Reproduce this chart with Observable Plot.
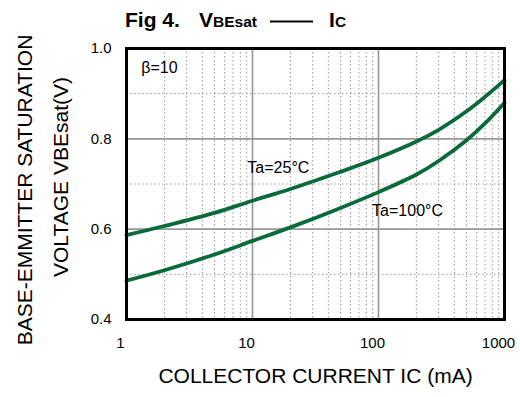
<!DOCTYPE html>
<html>
<head>
<meta charset="utf-8">
<script src="https://cdn.jsdelivr.net/npm/d3@7"></script>
<script src="https://cdn.jsdelivr.net/npm/@observablehq/plot@0.6"></script>
<style>
  html, body { margin: 0; padding: 0; background: white; }
  #wrap { position: relative; width: 520px; height: 397px; overflow: hidden; }
  #title { position: absolute; left: 0; top: 0; }
  #chart { position: absolute; left: 0; top: 0; }
  text { font-family: "Liberation Sans", Arial, sans-serif; }
</style>
</head>
<body>
<div id="wrap">
  <div id="chart"></div>
  <svg id="title" width="520" height="40" xmlns="http://www.w3.org/2000/svg">
    <text x="125" y="27" font-size="21" font-weight="bold">Fig 4.</text>
    <text x="199" y="27" font-size="21" font-weight="bold">V</text>
    <text x="213" y="27" font-size="15.5" font-weight="bold">BEsat</text>
    <line x1="270" x2="313" y1="21.5" y2="21.5" stroke="black" stroke-width="2"></line>
    <text x="329" y="27" font-size="21" font-weight="bold">I</text>
    <text x="335" y="27" font-size="15.5" font-weight="bold">C</text>
  </svg>
</div>
<script>
// Collector current (mA)
const currents = [1, 2, 5, 10, 20, 50, 100, 200, 300, 500, 700, 1000];
// VBE(sat) in volts, Ta = 25°C
const vbe25 = [0.587, 0.607, 0.636, 0.663, 0.689, 0.727, 0.758, 0.794, 0.820, 0.861, 0.893, 0.930];
// VBE(sat) in volts, Ta = 100°C
const vbe100 = [0.486, 0.509, 0.544, 0.574, 0.604, 0.647, 0.682, 0.721, 0.751, 0.797, 0.834, 0.880];

const xTicks = [1, 10, 100, 1000];
const yTicks = [0.4, 0.6, 0.8, 1.0];
const xMajor = [10, 100];
const xMinor = [2, 3, 4, 5, 6, 7, 8, 9, 20, 30, 40, 50, 60, 70, 80, 90, 200, 300, 400, 500, 600, 700, 800, 900];
const yMajor = [0.6, 0.8];
const yMinor = [0.5, 0.7, 0.9];

const noteText = ["β=10", "Ta=25°C", "Ta=100°C"];
const noteX = [1.31, 9.1, 89];
const noteY = [0.958, 0.735, 0.641];

const xTitle = "COLLECTOR CURRENT IC (mA)";
const yTitle1 = "BASE-EMMITTER SATURATION";
const yTitle2 = "VOLTAGE VBEsat(V)";

const s25 = currents.map((c, i) => ({ic: c, v: vbe25[i]}));
const s100 = currents.map((c, i) => ({ic: c, v: vbe100[i]}));
const notes = noteText.map((t, i) => ({t, x: noteX[i], y: noteY[i]}));

const green = "#0b6a3a";
const gridC = "#979797";

const chart = Plot.plot({
  width: 520,
  height: 397,
  marginLeft: 126,
  marginRight: 16,
  marginTop: 48,
  marginBottom: 78,
  x: {type: "log", domain: [1, 1000]},
  y: {domain: [0.4, 1.0]},
  style: {fontFamily: "'Liberation Sans', Arial, sans-serif", fontSize: "15px", color: "black", background: "white"},
  marks: [
    Plot.ruleX(xMinor, {stroke: gridC, strokeWidth: 1, strokeDasharray: "1.5,2.5"}),
    Plot.ruleY(yMinor, {stroke: gridC, strokeWidth: 1, strokeDasharray: "1.5,2.5"}),
    Plot.ruleX(xMajor, {stroke: gridC, strokeWidth: 1.6}),
    Plot.ruleY(yMajor, {stroke: gridC, strokeWidth: 1.6}),
    Plot.line(s25, {x: "ic", y: "v", stroke: green, strokeWidth: 3.8, curve: "catmull-rom"}),
    Plot.line(s100, {x: "ic", y: "v", stroke: green, strokeWidth: 3.8, curve: "catmull-rom"}),
    Plot.frame({stroke: "black", strokeWidth: 3}),
    Plot.axisX({ticks: xTicks, tickSize: 0, tickPadding: 18, tickFormat: d => String(d), label: null, dx: -6, fontSize: 15}),
    Plot.axisY({ticks: yTicks, tickSize: 0, tickPadding: 15, tickFormat: d => d.toFixed(1), label: null, fontSize: 15}),
    Plot.text(notes, {x: "x", y: "y", text: "t", textAnchor: "start", fontSize: 16, fill: "black"}),
    Plot.text([xTitle], {frameAnchor: "bottom", dy: 63, text: d => d, fontSize: 21, fill: "black"}),
    Plot.text([yTitle1], {frameAnchor: "left", textAnchor: "middle", dx: -101, dy: 6, rotate: -90, text: d => d, fontSize: 21, fill: "black"}),
    Plot.text([yTitle2], {frameAnchor: "left", textAnchor: "middle", dx: -65, dy: -7, rotate: -90, text: d => d, fontSize: 21, fill: "black"})
  ]
});
document.getElementById("chart").appendChild(chart);
</script>
</body>
</html>
